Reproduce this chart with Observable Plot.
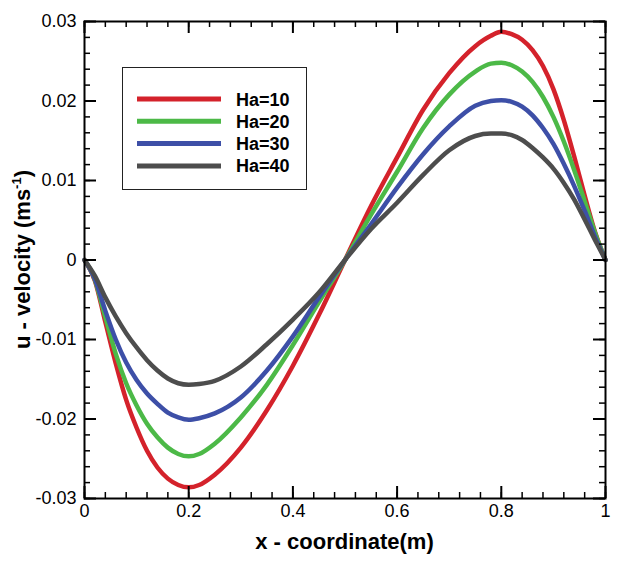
<!DOCTYPE html>
<html><head><meta charset="utf-8">
<script src="https://cdn.jsdelivr.net/npm/d3@7"></script>
<script src="https://cdn.jsdelivr.net/npm/@observablehq/plot@0.6"></script>
<style>
html,body{margin:0;padding:0;background:#fff;}
#wrap{position:relative;width:618px;height:561px;font-family:"Liberation Sans",Arial,sans-serif;}
#wrap svg.overlay{position:absolute;left:0;top:0;pointer-events:none;}
</style></head><body><div id="wrap"></div>
<script>
// ---- data ----
const xs = [0, 0.02, 0.04, 0.06, 0.08, 0.1, 0.12, 0.14, 0.16, 0.18, 0.2, 0.22, 0.25, 0.3, 0.35, 0.4, 0.45, 0.5,
            0.55, 0.6, 0.65, 0.7, 0.75, 0.78, 0.8, 0.82, 0.84, 0.86, 0.88, 0.9, 0.92, 0.94, 0.96, 0.98, 1];
const ha10 = [0, -0.0026, -0.0078, -0.0130, -0.0176, -0.0211, -0.0240, -0.0261, -0.0275, -0.0283, -0.0286, -0.0283, -0.0270, -0.0236, -0.0189, -0.0133, -0.0069, 0,
              0.0068, 0.0129, 0.0189, 0.0235, 0.0269, 0.0282, 0.0287, 0.0284, 0.0277, 0.0264, 0.0244, 0.0215, 0.0176, 0.0130, 0.0081, 0.0035, 0];
const ha20 = [0, -0.0025, -0.0072, -0.0118, -0.0155, -0.0183, -0.0206, -0.0223, -0.0236, -0.0244, -0.0247, -0.0244, -0.0231, -0.0198, -0.0157, -0.0107, -0.0053, 0,
              0.0057, 0.0111, 0.0166, 0.0208, 0.0237, 0.0247, 0.0248, 0.0245, 0.0237, 0.0224, 0.0205, 0.0180, 0.0149, 0.0113, 0.0074, 0.0034, 0];
const ha30 = [0, -0.0024, -0.0064, -0.0100, -0.0129, -0.0151, -0.0168, -0.0181, -0.0192, -0.0198, -0.0201, -0.0199, -0.0193, -0.0173, -0.0139, -0.0096, -0.0047, 0,
              0.0045, 0.0091, 0.0133, 0.0168, 0.0194, 0.0200, 0.0201, 0.0199, 0.0193, 0.0182, 0.0166, 0.0146, 0.0121, 0.0093, 0.0062, 0.0029, 0];
const ha40 = [0, -0.0020, -0.0047, -0.0071, -0.0092, -0.0110, -0.0126, -0.0139, -0.0149, -0.0155, -0.0157, -0.0156, -0.0152, -0.0134, -0.0106, -0.0075, -0.0041, 0,
              0.0039, 0.0072, 0.0107, 0.0138, 0.0156, 0.0159, 0.0159, 0.0157, 0.0151, 0.0141, 0.0129, 0.0115, 0.0097, 0.0076, 0.0051, 0.0025, 0];
const seriesNames = ["Ha=10", "Ha=20", "Ha=30", "Ha=40"];
const seriesColors = ["#d4222b", "#4cb947", "#3d4fa7", "#4d4d4d"];
const xTicks = [0, 0.2, 0.4, 0.6, 0.8, 1];
const yTicks = [-0.03, -0.02, -0.01, 0, 0.01, 0.02, 0.03];
const xTitle = "x - coordinate(m)";
const yTitle = "u - velocity (ms";
const yTitleSup = "-1";

// ---- build table ----
const seriesValues = [ha10, ha20, ha30, ha40];
const rows = [];
seriesValues.forEach((vals, i) => vals.forEach((u, j) => rows.push({x: xs[j], u, series: seriesNames[i]})));
const xMinor = d3.range(0, 1.0001, 0.04).map(v => +v.toFixed(2));
const yMinor = d3.range(-0.03, 0.03001, 0.002).map(v => +v.toFixed(3));

const W = 618, H = 561, mL = 84, mR = 13, mT = 21, mB = 63;
const iw = W - mL - mR, ih = H - mT - mB;
const font = '"Liberation Sans", Arial, sans-serif';

const chart = Plot.plot({
  width: W, height: H,
  marginLeft: mL, marginRight: mR, marginTop: mT, marginBottom: mB,
  style: {fontFamily: font, fontSize: "18px", color: "#000", background: "#fff", overflow: "visible"},
  x: {domain: [0, 1], label: null},
  y: {domain: [-0.03, 0.03], label: null},
  color: {domain: seriesNames, range: seriesColors},
  marks: [
    Plot.line(rows, {x: "x", y: "u", z: "series", stroke: "series", strokeWidth: 4.5, curve: "monotone-x"}),
    // inward ticks on all four sides
    Plot.ruleX(xMinor, {insetTop: ih - 6, stroke: "#000", strokeWidth: 1.5}),
    Plot.ruleX(xMinor, {insetBottom: ih - 6, stroke: "#000", strokeWidth: 1.5}),
    Plot.ruleX(xTicks, {insetTop: ih - 12, stroke: "#000", strokeWidth: 2}),
    Plot.ruleX(xTicks, {insetBottom: ih - 12, stroke: "#000", strokeWidth: 2}),
    Plot.ruleY(yMinor, {insetRight: iw - 6, stroke: "#000", strokeWidth: 1.5}),
    Plot.ruleY(yMinor, {insetLeft: iw - 6, stroke: "#000", strokeWidth: 1.5}),
    Plot.ruleY(yTicks, {insetRight: iw - 12, stroke: "#000", strokeWidth: 2}),
    Plot.ruleY(yTicks, {insetLeft: iw - 12, stroke: "#000", strokeWidth: 2}),
    Plot.frame({stroke: "#000", strokeWidth: 2}),
    Plot.axisX(xTicks, {tickSize: 0, tickPadding: 6, tickFormat: d => String(d), fontSize: 18, label: null}),
    Plot.axisY(yTicks, {tickSize: 0, tickPadding: 8, tickFormat: d => String(d), fontSize: 18, label: null})
  ]
});
const wrap = document.getElementById("wrap");
wrap.appendChild(chart);

// ---- overlay: axis titles and legend ----
const ov = d3.select(wrap).append("svg").attr("class", "overlay")
  .attr("width", W).attr("height", H).attr("font-family", font);

ov.append("text").attr("x", mL + iw / 2).attr("y", 549)
  .attr("text-anchor", "middle").attr("font-weight", "bold").attr("font-size", 22)
  .text(xTitle);

const yt = ov.append("text").attr("transform", `translate(30,${mT + ih / 2}) rotate(-90)`)
  .attr("text-anchor", "middle").attr("font-weight", "bold").attr("font-size", 22);
yt.append("tspan").text(yTitle);
yt.append("tspan").attr("font-size", 13).attr("dy", -9).text(yTitleSup);
yt.append("tspan").attr("dy", 9).text(")");

const lg = ov.append("g").attr("transform", "translate(122,67)");
lg.append("rect").attr("x", 0.5).attr("y", 0.5).attr("width", 184).attr("height", 122)
  .attr("fill", "#fff").attr("stroke", "#222").attr("stroke-width", 1);
seriesNames.forEach((name, i) => {
  const cy = 32 + i * 22.3;
  lg.append("line").attr("x1", 15).attr("x2", 99).attr("y1", cy).attr("y2", cy)
    .attr("stroke", seriesColors[i]).attr("stroke-width", 5);
  lg.append("text").attr("x", 114).attr("y", cy + 6.5)
    .attr("font-weight", "bold").attr("font-size", 18).text(name);
});
</script></body></html>
